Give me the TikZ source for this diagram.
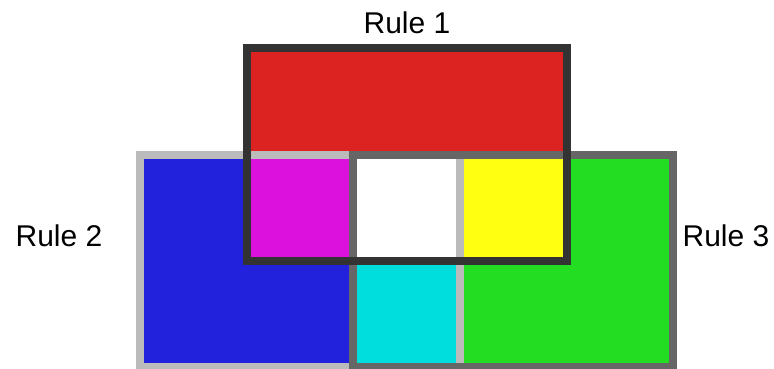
\documentclass[tikz,border=0pt]{standalone}
\usepackage{fontspec}
\setmainfont{Liberation Sans}
\usetikzlibrary{calc}
\definecolor{cRed}{HTML}{DD2222}
\definecolor{cBlue}{HTML}{2222DD}
\definecolor{cGreen}{HTML}{22DD22}
\definecolor{cMag}{HTML}{DD11DD}
\definecolor{cYel}{HTML}{FFFF11}
\definecolor{cCyan}{HTML}{00DDDD}
\definecolor{bOne}{HTML}{333333}
\definecolor{bTwo}{HTML}{BBBBBB}
\definecolor{bThree}{HTML}{666666}
\begin{document}
\begin{tikzpicture}[x=1pt,y=-1pt,
  rulebox/.style={draw, line width=8pt, minimum width=320pt, minimum height=212.6pt, inner sep=0pt, outer sep=0pt},
  lbl/.style={font=\fontsize{30}{36}\selectfont, inner sep=0pt}]
\useasboundingbox (0,0) rectangle (774,369);
% corner coordinates
\coordinate (r1a) at (247,48);    \coordinate (r1b) at (566.7,261.3);
\coordinate (r2a) at (140,154.7); \coordinate (r2b) at (460,367.3);
\coordinate (r3a) at (353.3,154.7); \coordinate (r3b) at (673.3,367.3);
% region fills
\fill[cBlue] (r2a) rectangle (r2b);
\fill[cGreen] (r3a) rectangle (r3b);
\fill[cCyan] (r3a) rectangle (r2b);
\fill[cRed] (r1a) rectangle (r1b);
\fill[cMag] (r1a |- r2a) rectangle (r3a |- r1b);
\fill[cYel] (r2b |- r2a) rectangle (r1b);
\fill[white] (r3a) rectangle (r2b |- r1b);
% rule boxes
\node[rulebox, draw=bTwo] (rule2) at ($(r2a)!0.5!(r2b)$) {};
\node[rulebox, draw=bThree] (rule3) at ($(r3a)!0.5!(r3b)$) {};
\node[rulebox, draw=bOne] (rule1) at ($(r1a)!0.5!(r1b)$) {};
% labels
\node[lbl] (l1) at (407,22.5) {Rule 1};
\node[lbl] (l2) at (59,236) {Rule 2};
\node[lbl] (l3) at (726,236) {Rule 3};
\end{tikzpicture}
\end{document}
